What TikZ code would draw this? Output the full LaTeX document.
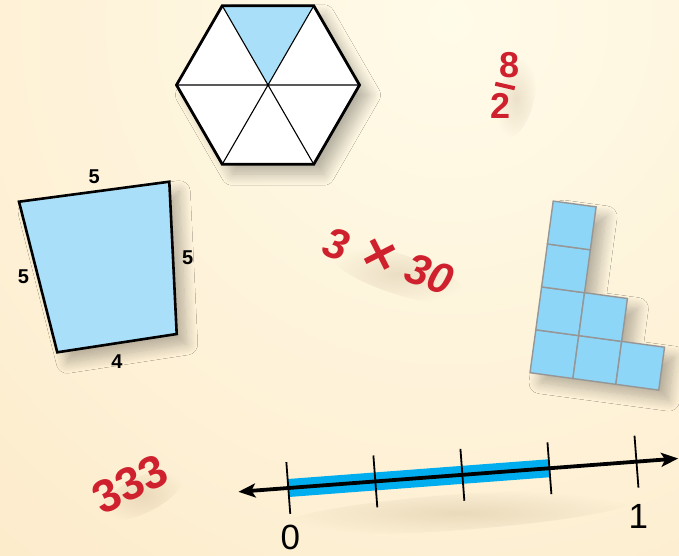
\documentclass[tikz,border=0pt]{standalone}
\usepackage{fontspec}
\newfontfamily\labelfont{Liberation Sans}
\usetikzlibrary{arrows.meta,shadows.blur,fadings,positioning}
\definecolor{bgin}{RGB}{255,251,233}
\definecolor{bgout}{RGB}{252,230,193}
\definecolor{numred}{RGB}{207,32,46}
\definecolor{paleblue}{RGB}{170,223,250}
\definecolor{tileblue}{RGB}{141,214,247}
\definecolor{tileedge}{RGB}{150,150,150}
\definecolor{bandblue}{RGB}{0,174,239}
\definecolor{shadowc}{RGB}{150,120,80}
\tikzfading[name=softspot,inner color=transparent!55,outer color=transparent!100]

\begin{document}
\begin{tikzpicture}[x=1pt,y=-1pt,
	softshadow/.style={blur shadow={shadow xshift=10pt,shadow yshift=-10pt,shadow blur radius=11pt,shadow blur steps=12,shadow opacity=28}},
	redbold/.style={text=numred,inner sep=0pt,font=\labelfont\bfseries\fontsize{#1}{#1}\selectfont},
	reditalic/.style={text=numred,inner sep=0pt,font=\labelfont\bfseries\itshape\fontsize{#1}{#1}\selectfont},
	sidelabel/.style={inner sep=0pt,font=\labelfont\bfseries\fontsize{20}{20}\selectfont},
	ticklabel/.style={inner sep=0pt,font=\labelfont\fontsize{35}{35}\selectfont},
	textshadow/.style={fill=shadowc,opacity=0.4,path fading=softspot}]
	\useasboundingbox (0,0) rectangle (679,555);
	\begin{scope}
		\clip (0,0) rectangle (679,555);
		\shade[inner color=bgin,outer color=bgout] (450,20) circle (950);
	\end{scope}
	% hexagon
	\begin{scope}[shift={(268,85)}]
		\coordinate (hc) at (0,0);
		\foreach \i in {0,...,5}{ \coordinate (h\i) at (\i*60:91.5); }
	\end{scope}
	\fill[white,softshadow] (h0) -- (h1) -- (h2) -- (h3) -- (h4) -- (h5) -- cycle;
	\fill[paleblue] (hc) -- (h4) -- (h5) -- cycle;
	\draw[line width=1.1pt] (h0) -- (h3) (h1) -- (h4) (h2) -- (h5);
	\draw[line width=2.8pt,line join=miter] (h0) -- (h1) -- (h2) -- (h3) -- (h4) -- (h5) -- cycle;
	% quadrilateral
	\coordinate (q1) at (19,201.7);
	\coordinate (q2) at (169.3,181.7);
	\coordinate (q3) at (176.7,334);
	\coordinate (q4) at (57.3,352.3);
	\filldraw[fill=paleblue,line width=2.6pt,line join=miter,softshadow] (q1) -- (q2) -- (q3) -- (q4) -- cycle;
	\path (q1) -- node[sidelabel,midway,above=8pt] (qtop) {5} (q2)
		(q2) -- node[sidelabel,midway,right=9pt] (qright) {5} (q3)
		(q3) -- node[sidelabel,midway,below=11pt] (qbottom) {4} (q4)
		(q4) -- node[sidelabel,midway,left=9pt] (qleft) {5} (q1);
	% tiles
	\begin{scope}[shift={(530,372.7)},rotate=-7.7]
		\fill[tileblue,softshadow] (0,0) -- (129.9,0) -- (129.9,-43.3) -- (86.6,-43.3) -- (86.6,-86.6) -- (43.3,-86.6) -- (43.3,-173.2) -- (0,-173.2) -- cycle;
		\foreach \c/\r in {0/0,1/0,2/0,0/1,1/1,0/2,0/3}{
			\draw[fill=tileblue,draw=tileedge,line width=1.4pt] (\c*43.3,-\r*43.3) rectangle ++(43.3,-43.3);
		}
	\end{scope}
	% red numbers
	\fill[textshadow,rotate around={-13:(516,98)}] (516,98) ellipse (18 and 40);
	\begin{scope}[shift={(505,86)},rotate=-13]
		\node[redbold=36] (eight) at (0,-21) {8};
		\draw[numred,line width=4pt] (-10,0) -- (10,0);
		\node[redbold=36] (two) at (0,20) {2};
	\end{scope}
	\fill[textshadow,rotate around={-18:(398,274)}] (398,274) ellipse (72 and 20);
	\node[reditalic=43,rotate=-18] (product) at (389,260) {3\hspace{15.6pt}{\fontsize{54}{54}\selectfont ×}\hspace{14.7pt}30};
	\fill[textshadow,rotate around={26:(142,495)}] (142,495) ellipse (45 and 18);
	\node[redbold=46,rotate=26] (threes) at (130,484) {333};
	% number line
	\fill[textshadow,rotate around={4.3:(460,512)}] (460,512) ellipse (180 and 18);
	\begin{scope}[shift={(288.3,488)},rotate=4.33]
		\coordinate (nlleft) at (-50,0);
		\coordinate (nlright) at (391,0);
		\foreach \k in {0,...,4}{
			\coordinate (t\k) at (\k*87.3,-26);
			\coordinate (b\k) at (\k*87.3,26);
		}
		\draw[bandblue,line width=18pt] (0,0) -- (3*87.3,0);
		\draw[line width=3.8pt,{Stealth[length=17pt,width=14pt,inset=4pt]}-{Stealth[length=17pt,width=14pt,inset=4pt]}] (nlleft) -- (nlright);
		\foreach \k in {0,...,4}{ \draw[line width=1.8pt] (t\k) -- (b\k); }
	\end{scope}
	\node[ticklabel,below=11pt of b0] (zero) {0};
	\node[ticklabel,below=17pt of b4] (one) {1};
\end{tikzpicture}
\end{document}
